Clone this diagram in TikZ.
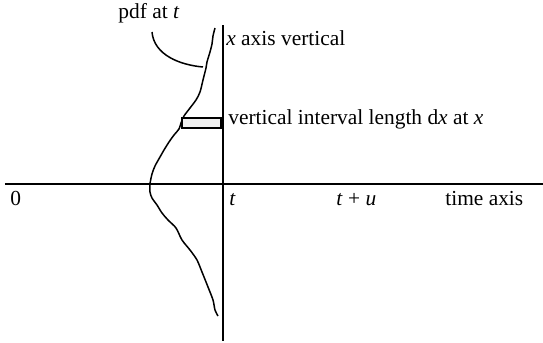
\documentclass[tikz,border=0pt]{standalone}
\usepackage{fontspec}
\setmainfont{Liberation Serif}
\begin{document}
\begin{tikzpicture}[x=0.5pt,y=-0.5pt,
  axis/.style={line width=1pt},
  curve/.style={line width=0.75pt},
  lbl/.style={anchor=base west,inner sep=0pt,font=\fontsize{10.7}{12}\selectfont}]
\useasboundingbox (0,0) rectangle (543,343);
\coordinate (vtop) at (223,25);
\coordinate (vbot) at (223,341);
\coordinate (hleft) at (5,184);
\coordinate (hright) at (543,184);
\draw[axis] (hleft) -- (hright);
\draw[axis] (vtop) -- (vbot);
\draw[curve,line join=round] plot[smooth,tension=0.5] coordinates {
(215,28) (213,36) (212,44) (210,52) (207,62) (206,68) (203,80) (200,92) (196,100)
(190,108) (184,116) (181,123) (179,129) (174,135) (169,142) (164,150) (160,157)
(155,166) (152,174) (150,184) (150,192) (152,198) (157,205) (162,213) (168,220)
(176,228) (182,240) (190,250) (197,260) (202,272) (208,287) (213,300) (215,310) (218,316)};
\node[draw,line width=0.6pt,fill=black!6,minimum width=19.5pt,minimum height=5pt,inner sep=0pt] (box) at (201.5,123) {};
\node[lbl] (pdf) at (118,18) {pdf at \textit{t}};
\coordinate (lead1) at (152,32);
\coordinate (lead2) at (203,67);
\draw[curve] (lead1) .. controls (154,55) and (180,65) .. (lead2);
\node[lbl] (xax) at (226,45) {\textit{x} axis vertical};
\node[lbl] (vint) at (228,124) {vertical interval length d\textit{x} at \textit{x}};
\node[lbl] (zero) at (10,205) {0};
\node[lbl] (tl) at (229,205) {\textit{t}};
\node[lbl] (tu) at (336,205) {\textit{t} + \textit{u}};
\node[lbl] (time) at (445,205) {time axis};
\end{tikzpicture}
\end{document}
